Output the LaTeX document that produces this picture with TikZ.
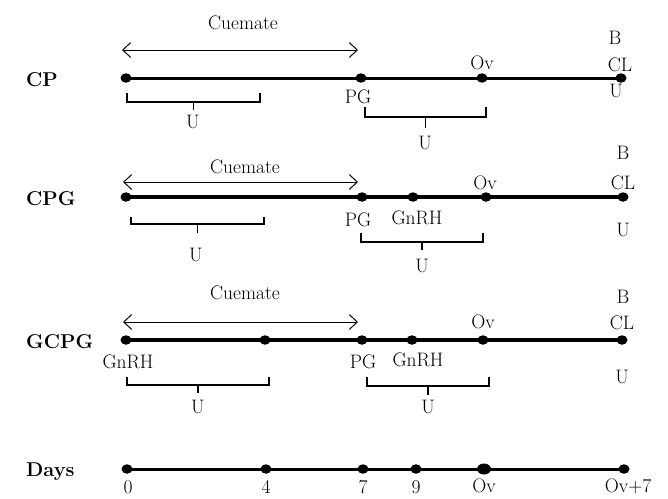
\documentclass[tikz,border=0pt]{standalone}
\usetikzlibrary{arrows.meta,shapes.geometric}
\tikzset{
  dot/.style={ellipse,fill=black,inner sep=0pt,minimum width=11pt,minimum height=9.5pt},
  bigdot/.style={ellipse,fill=black,inner sep=0pt,minimum width=14pt,minimum height=11pt},
  tl/.style={font=\fontsize{19.5}{19.5}\selectfont,inner sep=0pt},
  ttl/.style={font=\fontsize{20}{20}\selectfont\bfseries,inner sep=0pt,anchor=west},
  axisthin/.style={line width=3pt},
  axisthick/.style={line width=3.8pt},
  cue/.style={line width=1pt,{Straight Barb[length=8pt,width=15pt]}-{Straight Barb[length=8pt,width=15pt]}},
  brk/.style={line width=1.3pt},
}
\newcommand\mybrace[5]{% x1 x2 top horiz tick
  \draw[brk] (#1,#3) -- (#1,#4) -- (#2,#4) -- (#2,#3);
  \draw[brk] ({(#1+#2)/2},#4) -- ({(#1+#2)/2},#5);
}
\begin{document}
\begin{tikzpicture}[x=1pt,y=-1pt]
\useasboundingbox (0,0) rectangle (668,498);

% ---------- CP ----------
\node[ttl] (tcp) at (26,80) {CP};
\node[dot] (a1) at (126,78) {};
\node[dot] (a2) at (361,78) {};
\node[dot] (a3) at (482,78) {};
\node[dot] (a4) at (621,78) {};
\draw[axisthin] (a1.center) -- (a4.center);
\coordinate (ca1) at (122,50);
\coordinate (ca2) at (358,50);
\draw[cue] (ca1) -- (ca2);
\node[tl] (cuea) at (243,23) {Cuemate};
\node[tl] (ba) at (615,38) {B};
\node[tl] (ova) at (482,63) {Ov};
\node[tl] (cla) at (620,65) {CL};
\node[tl] (ua) at (616,91) {U};
\node[tl] (pga) at (358,97) {PG};
\mybrace{127}{260}{93}{102}{110}
\node[tl] (ua1) at (193,122) {U};
\mybrace{365}{486}{107}{117}{128}
\node[tl] (ua2) at (425,143) {U};

% ---------- CPG ----------
\node[ttl] (tcpg) at (26,199) {CPG};
\node[dot] (b1) at (126,197) {};
\node[dot] (b2) at (362,197) {};
\node[dot] (b3) at (413,197) {};
\node[dot] (b4) at (486,197) {};
\node[dot] (b5) at (623,197) {};
\draw[axisthick] (b1.center) -- (b5.center);
\coordinate (cb1) at (123,182);
\coordinate (cb2) at (358,182);
\draw[cue] (cb1) -- (cb2);
\node[tl] (cueb) at (245,167) {Cuemate};
\node[tl] (bb) at (623,153) {B};
\node[tl] (ovb) at (485,183) {Ov};
\node[tl] (clb) at (623,183) {CL};
\node[tl] (pgb) at (358,220) {PG};
\node[tl] (gnb) at (417,218) {GnRH};
\node[tl] (ub) at (623,230) {U};
\mybrace{131}{264}{217}{224}{233}
\node[tl] (ub1) at (196,255) {U};
\mybrace{361}{483}{233}{242}{250}
\node[tl] (ub2) at (422,266) {U};

% ---------- GCPG ----------
\node[ttl] (tgcpg) at (26,342) {GCPG};
\node[dot] (c1) at (126,340) {};
\node[dot] (c2) at (265,340) {};
\node[dot] (c3) at (362,340) {};
\node[dot] (c4) at (412,340) {};
\node[dot] (c5) at (483,340) {};
\node[dot] (c6) at (622,340) {};
\draw[axisthick] (c1.center) -- (c6.center);
\coordinate (cc1) at (123,322);
\coordinate (cc2) at (358,322);
\draw[cue] (cc1) -- (cc2);
\node[tl] (cuec) at (245,293) {Cuemate};
\node[tl] (bc) at (623,297) {B};
\node[tl] (ovc) at (483,322) {Ov};
\node[tl] (clc) at (622,323) {CL};
\node[tl] (gnc1) at (128,362) {GnRH};
\node[tl] (pgc) at (363,362) {PG};
\node[tl] (gnc2) at (418,360) {GnRH};
\node[tl] (uc) at (622,377) {U};
\mybrace{127}{269}{377}{385}{393}
\node[tl] (uc1) at (198,407) {U};
\mybrace{367}{489}{377}{386}{395}
\node[tl] (uc2) at (428,407) {U};

% ---------- Days ----------
\node[ttl] (tdays) at (26,472) {Days};
\node[dot] (d1) at (127,469) {};
\node[dot] (d2) at (266,469) {};
\node[dot] (d3) at (363,469) {};
\node[dot] (d4) at (416,469) {};
\node[bigdot] (d5) at (484,469) {};
\node[dot] (d6) at (624,469) {};
\draw[axisthin] (d1.center) -- (d6.center);
\node[tl] (l0) at (128,487) {0};
\node[tl] (l4) at (266,487) {4};
\node[tl] (l7) at (363,487) {7};
\node[tl] (l9) at (416,487) {9};
\node[tl] (lov) at (484,486) {Ov};
\node[tl] (lov7) at (628,486) {Ov+7};
\end{tikzpicture}
\end{document}
